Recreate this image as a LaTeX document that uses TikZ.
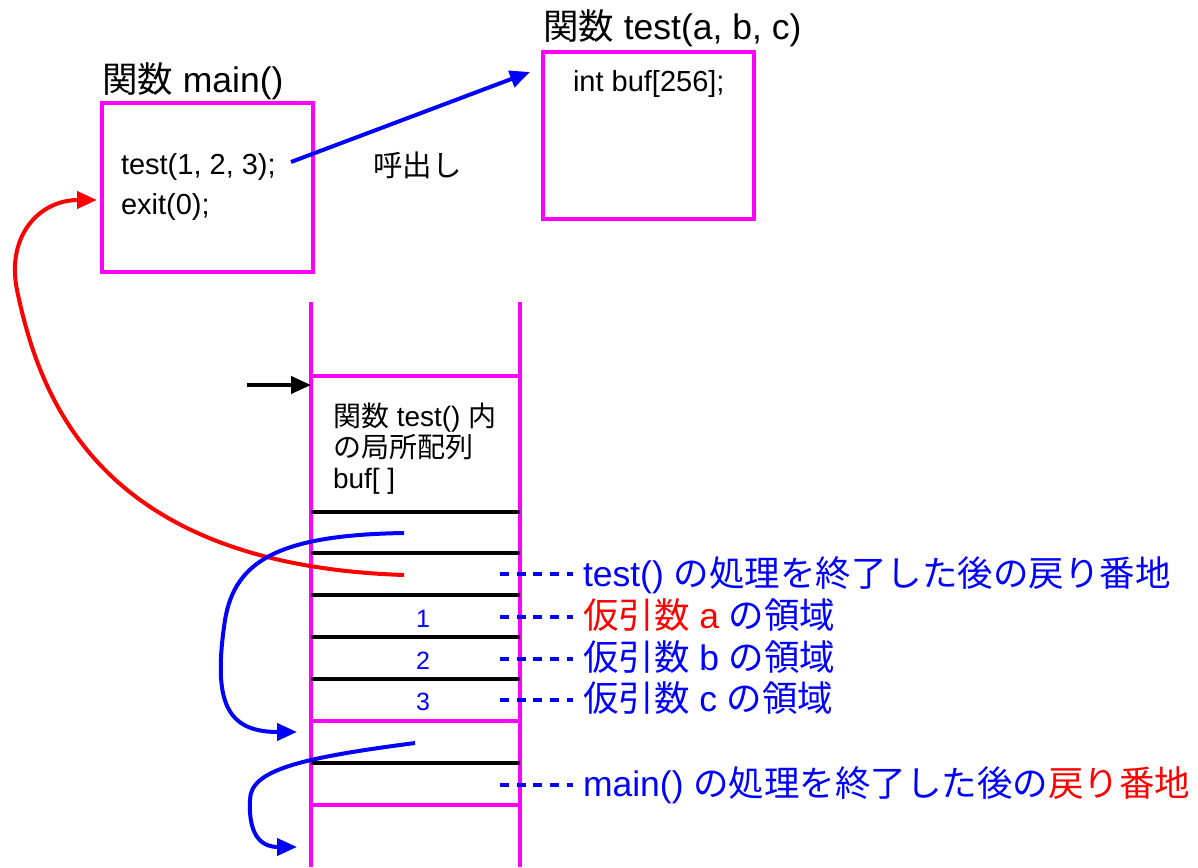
\documentclass[tikz,border=0pt]{standalone}
\usepackage{fontspec}
\setmainfont{Liberation Sans}
\newfontfamily\jp{Noto Sans CJK JP}
\usetikzlibrary{arrows.meta}
\definecolor{mag}{RGB}{255,0,255}
\definecolor{bl}{RGB}{0,0,255}
\definecolor{rd}{RGB}{255,0,0}
\begin{document}
\begin{tikzpicture}[x=1pt,y=-1pt,
  frame/.style={draw=mag, line width=4pt, inner sep=0pt, anchor=north west},
  txt/.style={anchor=base west, inner sep=0pt, outer sep=0pt},
  big/.style={font=\fontsize{35.5}{40}\selectfont},
  mid/.style={font=\fontsize{29}{33}\selectfont},
  wall/.style={draw=mag, line width=4pt},
  cell/.style={draw=black, line width=4pt},
  dashlink/.style={draw=bl, line width=4pt, dash pattern=on 9pt off 7.7pt},
  tip/.style={-{Triangle[length=20pt,width=17pt]}},
  curve/.style={line width=4pt, tip}]
\useasboundingbox (0,0) rectangle (1198,867);
% function boxes
\node[frame, minimum width=211pt, minimum height=169pt] (mainbox) at (100,101) {};
\node[frame, minimum width=211pt, minimum height=167pt] (testbox) at (541,50) {};
\node[txt, big] (mainlbl) at (102,92) {{\jp 関数} main()};
\node[txt, big] (testlbl) at (543,40) {{\jp 関数} test(a, b, c)};
\node[txt, mid] (call) at (121,174) {test(1, 2, 3);};
\node[txt, mid] (exit) at (121,214) {exit(0);};
\node[txt, mid] (buf) at (573,91) {int buf[256];};
\node[txt, font=\fontsize{29.5}{34}\selectfont\jp] (yobi) at (373,176) {呼出し};
\coordinate (callend) at (291,162);
\coordinate (callhit) at (530,72);
\draw[bl, line width=4pt, -{Triangle[length=20pt,width=17pt]}] (callend) -- (callhit);
% stack
\coordinate (wl0) at (311,302); \coordinate (wl1) at (311,867);
\coordinate (wr0) at (520,302); \coordinate (wr1) at (520,867);
\draw[wall] (wl0) -- (wl1);
\draw[wall] (wr0) -- (wr1);
\foreach \y in {376,721,805} \draw[wall] (311,\y) -- (520,\y);
\foreach \y in {512,553,595,637,679,763} \draw[cell] (311,\y) -- (520,\y);
\coordinate (sp0) at (247,385); \coordinate (sp1) at (311,385);
\draw[line width=4pt, tip] (sp0) -- (sp1);
\node[txt, font=\fontsize{28}{31}\selectfont, align=left, anchor=north west] (local) at (333,403)
  {{\jp 関数} test() {\jp 内}\\{\jp の局所配列}\\buf[ ]};
\foreach \n/\y in {1/627,2/669,3/710}
  \node[anchor=base, inner sep=0pt, text=bl, font=\fontsize{25}{30}\selectfont] (arg\n) at (423,\y) {\n};
% labels
\foreach \y in {574,617,659,700,785} \draw[dashlink] (500,\y) -- (573,\y);
\begin{scope}[every node/.style={txt, big, text=bl}]
\node (l1) at (583,586) {test() {\jp の処理を終了した後の戻り番地}};
\node (l2) at (583,628) {\textcolor{rd}{{\jp 仮引数} a} {\jp の領域}};
\node (l3) at (583,670) {{\jp 仮引数} b {\jp の領域}};
\node (l4) at (583,711) {{\jp 仮引数} c {\jp の領域}};
\node (l5) at (583,796) {main() {\jp の処理を終了した後の\textcolor{rd}{戻り番地}}};
\end{scope}
% return arrows
\coordinate (ra) at (404,575);
\coordinate (rb) at (97,200);
\draw[rd, curve] (ra) .. controls (100,565) and (40,400) .. (17,290)
  .. controls (6,235) and (40,200) .. (rb);
\coordinate (ba) at (404,533);
\coordinate (bb) at (297,732);
\draw[bl, curve] (ba) .. controls (280,535) and (235,560) .. (225,620)
  .. controls (213,700) and (225,732) .. (bb);
\coordinate (ca) at (415,743);
\coordinate (cb) at (297,847);
\draw[bl, curve] (ca) .. controls (300,758) and (250,770) .. (250,800)
  .. controls (248,840) and (265,847) .. (cb);
\end{tikzpicture}
\end{document}
